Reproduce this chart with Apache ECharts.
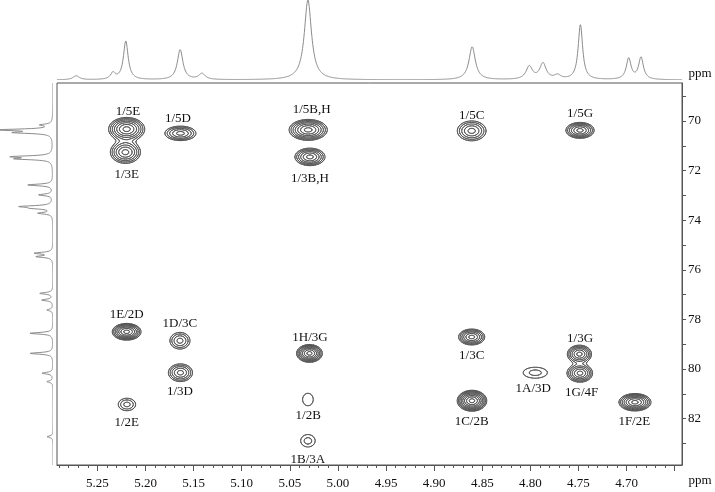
<!DOCTYPE html>
<html><head><meta charset="utf-8">
<script src="https://cdn.jsdelivr.net/npm/echarts@6/dist/echarts.min.js"></script>
<style>html,body{margin:0;padding:0;background:#fff}#c{width:715px;height:492px}</style>
</head><body><div id="c"></div>
<script>
// ---------- data ----------
const hMin = 4.6424, hMax = 5.292;     // 1H axis range (ppm)
const cMin = 68.47, cMax = 83.87;      // 13C axis range (ppm)

const xTickValues = [5.25, 5.20, 5.15, 5.10, 5.05, 5.00, 4.95, 4.90, 4.85, 4.80, 4.75, 4.70];
const xTickLabels = ['5.25','5.20','5.15','5.10','5.05','5.00','4.95','4.90','4.85','4.80','4.75','4.70'];
const xMajorTicks = [5.25, 5.20, 5.15, 5.10, 5.05, 5.00, 4.95, 4.90, 4.85, 4.80, 4.75, 4.70, 4.65];
const xMinorTicks = [5.29,5.28,5.27,5.26,5.24,5.23,5.22,5.21,5.19,5.18,5.17,5.16,5.14,5.13,5.12,5.11,5.09,5.08,5.07,5.06,5.04,5.03,5.02,5.01,4.99,4.98,4.97,4.96,4.94,4.93,4.92,4.91,4.89,4.88,4.87,4.86,4.84,4.83,4.82,4.81,4.79,4.78,4.77,4.76,4.74,4.73,4.72,4.71,4.69,4.68,4.67,4.66];
const yTickValues = [70, 72, 74, 76, 78, 80, 82];
const yTickLabels = ['70', '72', '74', '76', '78', '80', '82'];
const yAllTicks = [69, 70, 71, 72, 73, 74, 75, 76, 77, 78, 79, 80, 81, 82, 83];

// cross peaks
const peakNames  = ['1/5E','1/3E','1/5D','1/5B,H','1/3B,H','1/5C','1/5G','1E/2D','1D/3C','1/3D','1/2E','1H/3G','1/2B','1B/3A','1/3C','1A/3D','1/3G','1G/4F','1C/2B','1F/2E'];
const peakH      = [5.2196, 5.2209, 5.1637, 5.0309, 5.0291, 4.8610, 4.7484, 5.2196, 5.1642, 5.1637, 5.2193, 5.0296, 5.0312, 5.0312, 4.8610, 4.7949, 4.7490, 4.7484, 4.8607, 4.6913];
const peakC      = [70.33, 71.26, 70.50, 70.36, 71.45, 70.40, 70.38, 78.50, 78.86, 80.15, 81.43, 79.37, 81.23, 82.90, 78.71, 80.15, 79.40, 80.17, 81.28, 81.34];
const peakLevels = [7, 6, 5, 7, 6, 5, 6, 7, 4, 5, 3, 7, 1, 2, 6, 2, 6, 6, 8, 7];
const peakWidthH = [0.0187, 0.0156, 0.0161, 0.0198, 0.0156, 0.0149, 0.0146, 0.0149, 0.0104, 0.0125, 0.0090, 0.0133, 0.0055, 0.0073, 0.0135, 0.0125, 0.0125, 0.0130, 0.0153, 0.0166];
const peakWidthC = [0.47, 0.45, 0.29, 0.42, 0.35, 0.40, 0.32, 0.335, 0.335, 0.355, 0.25, 0.355, 0.25, 0.24, 0.32, 0.22, 0.36, 0.36, 0.42, 0.35];
const labelH     = [5.2183, 5.2196, 5.1663, 5.0273, 5.0291, 4.8610, 4.7484, 5.2196, 5.1642, 5.1642, 5.2196, 5.0291, 5.0309, 5.0312, 4.8610, 4.7970, 4.7484, 4.7467, 4.8610, 4.6920];
const labelC     = [69.63, 72.18, 69.89, 69.56, 72.34, 69.80, 69.72, 77.82, 78.16, 80.89, 82.15, 78.74, 81.86, 83.67, 79.44, 80.78, 78.77, 80.94, 82.10, 82.10];

// 1H projection (top)
const protonShift  = [5.2721, 5.2338, 5.2205, 5.1640, 5.1413, 5.0312, 4.8605, 4.8011, 4.7869, 4.7717, 4.7480, 4.6978, 4.6850];
const protonHeight = [4, 6.5, 38.5, 30, 6, 80, 33, 13, 16, 4, 55, 21, 22];
const protonWidth  = [0.004, 0.003, 0.003, 0.0035, 0.004, 0.0045, 0.004, 0.004, 0.004, 0.004, 0.0028, 0.003, 0.003];

// 13C projection (left)
const carbonShift  = [70.16, 70.36, 70.47, 71.44, 71.53, 72.58, 72.98, 73.45, 73.52, 73.72, 75.33, 75.47, 76.95, 77.22, 77.62, 78.56, 79.37, 80.17, 80.51, 82.73];
const carbonHeight = [11, 53, 35, 38, 33, 25, 14, 30, 16, 14, 18, 16, 13, 11, 6, 23, 23, 11, 6, 6];
const carbonWidth  = [0.04, 0.04, 0.04, 0.04, 0.04, 0.04, 0.04, 0.04, 0.04, 0.04, 0.04, 0.04, 0.04, 0.04, 0.04, 0.04, 0.04, 0.04, 0.04, 0.04];

// ---------- rendering ----------
const FONT = '"Liberation Serif", "Times New Roman", serif';
const LEVEL_FACTOR = 1.45;
const SHAPE_POWER = 1.6;

function contourRender(params, api) {
  if (params.dataIndex !== 0) return null;
  const cs = params.coordSys;
  const x0 = cs.x, y0 = cs.y;
  const W = Math.ceil(cs.width) + 1, H = Math.ceil(cs.height) + 1;
  const field = new Float32Array(W * H);
  let maxLev = 0;
  for (let p = 0; p < peakH.length; p++) {
    const n = peakLevels[p];
    if (n > maxLev) maxLev = n;
    const A = Math.pow(LEVEL_FACTOR, n - 0.5);
    const k = Math.pow(Math.log(A), 1 / SHAPE_POWER);
    const c = api.coord([peakH[p], peakC[p]]);
    const sz = api.size([peakWidthH[p], peakWidthC[p]], [peakH[p], peakC[p]]);
    const sx = sz[0] / k, sy = sz[1] / k;
    const i0 = Math.max(0, Math.floor(c[0] - x0 - 6 * sx)), i1 = Math.min(W - 1, Math.ceil(c[0] - x0 + 6 * sx));
    const j0 = Math.max(0, Math.floor(c[1] - y0 - 6 * sy)), j1 = Math.min(H - 1, Math.ceil(c[1] - y0 + 6 * sy));
    for (let j = j0; j <= j1; j++) {
      const dy = (y0 + j - c[1]) / sy;
      for (let i = i0; i <= i1; i++) {
        const dx = (x0 + i - c[0]) / sx;
        const r = Math.sqrt(dx * dx + dy * dy);
        field[j * W + i] += A * Math.exp(-Math.pow(r, SHAPE_POWER));
      }
    }
  }
  const SEG = {1:[['L','B']],2:[['B','R']],3:[['L','R']],4:[['T','R']],5:[['L','T'],['B','R']],6:[['T','B']],7:[['L','T']],
               8:[['L','T']],9:[['T','B']],10:[['T','R'],['L','B']],11:[['T','R']],12:[['L','R']],13:[['B','R']],14:[['L','B']]};
  const out = [];
  for (let lv = 0; lv < maxLev; lv++) {
    const L = Math.pow(LEVEL_FACTOR, lv);
    for (let j = 0; j < H - 1; j++) {
      for (let i = 0; i < W - 1; i++) {
        const a = field[j * W + i], b = field[j * W + i + 1], c = field[(j + 1) * W + i + 1], e = field[(j + 1) * W + i];
        const idx = (a >= L ? 8 : 0) | (b >= L ? 4 : 0) | (c >= L ? 2 : 0) | (e >= L ? 1 : 0);
        if (idx === 0 || idx === 15) continue;
        const pt = function (edge) {
          let px, py;
          if (edge === 'T') { px = i + (L - a) / (b - a); py = j; }
          else if (edge === 'R') { px = i + 1; py = j + (L - b) / (c - b); }
          else if (edge === 'B') { px = i + (L - e) / (c - e); py = j + 1; }
          else { px = i; py = j + (L - a) / (e - a); }
          return (x0 + px).toFixed(2) + ' ' + (y0 + py).toFixed(2);
        };
        const segs = SEG[idx];
        for (let s = 0; s < segs.length; s++) {
          out.push('M' + pt(segs[s][0]) + 'L' + pt(segs[s][1]));
        }
      }
    }
  }
  return {
    type: 'path',
    shape: { pathData: out.join('') },
    style: { fill: 'none', stroke: '#3a3a3a', lineWidth: 0.7, lineCap: 'round' }
  };
}

function lorentzSum(v, shifts, heights, widths) {
  let s = 0;
  for (let k = 0; k < shifts.length; k++) {
    const d = (v - shifts[k]) / widths[k];
    s += heights[k] / (1 + d * d);
  }
  return s;
}

function topSpecRender(params, api) {
  if (params.dataIndex !== 0) return null;
  const pts = [];
  const N = 1400;
  for (let s = 0; s <= N; s++) {
    const v = hMin + (hMax - hMin) * s / N;
    pts.push(api.coord([v, lorentzSum(v, protonShift, protonHeight, protonWidth)]));
  }
  return { type: 'polyline', shape: { points: pts }, style: { fill: null, stroke: '#8c8c8c', lineWidth: 1 } };
}

function leftSpecRender(params, api) {
  if (params.dataIndex !== 0) return null;
  const pts = [];
  const N = 1200;
  for (let s = 0; s <= N; s++) {
    const v = cMin + (cMax - cMin) * s / N;
    pts.push(api.coord([lorentzSum(v, carbonShift, carbonHeight, carbonWidth), v]));
  }
  return { type: 'polyline', shape: { points: pts }, style: { fill: null, stroke: '#8c8c8c', lineWidth: 1 } };
}

function labelRender(params, api) {
  const i = params.dataIndex;
  const p = api.coord([labelH[i], labelC[i]]);
  return {
    type: 'text', x: p[0], y: p[1],
    style: { text: peakNames[i], fill: '#111', fontSize: 13, fontFamily: FONT, align: 'center', verticalAlign: 'middle' }
  };
}

function near(a, b) { return Math.abs(a - b) < 1e-6; }

const chart = echarts.init(document.getElementById('c'), null, { renderer: 'canvas', width: 715, height: 492 });
const axisColor = '#555';
chart.setOption({
  animation: false,
  backgroundColor: '#fff',
  grid: [
    { left: 57, right: 33, top: 83, bottom: 27, show: true, borderColor: axisColor, borderWidth: 1, containLabel: false },
    { left: 57, right: 33, top: 0, height: 80, show: false },
    { left: 0, width: 53, top: 83, bottom: 27, show: false }
  ],
  xAxis: [
    { gridIndex: 0, type: 'value', inverse: true, min: hMin, max: hMax, position: 'bottom',
      axisLine: { show: true, onZero: false, lineStyle: { color: axisColor, width: 1 } },
      axisTick: { show: true, length: 6, customValues: xMajorTicks, lineStyle: { color: axisColor } },
      axisLabel: { show: true, customValues: xTickValues, margin: 12, color: '#111', fontSize: 13, fontFamily: FONT,
        formatter: function (v) { for (let k = 0; k < xTickValues.length; k++) if (near(v, xTickValues[k])) return xTickLabels[k]; return ''; } },
      splitLine: { show: false } },
    { gridIndex: 0, type: 'value', inverse: true, min: hMin, max: hMax, position: 'bottom',
      axisLine: { show: false, onZero: false },
      axisTick: { show: true, length: 3, customValues: xMinorTicks, lineStyle: { color: axisColor } },
      axisLabel: { show: false }, splitLine: { show: false } },
    { gridIndex: 1, type: 'value', inverse: true, min: hMin, max: hMax, show: false },
    { gridIndex: 2, type: 'value', inverse: true, min: 0, max: 53, show: false }
  ],
  yAxis: [
    { gridIndex: 0, type: 'value', inverse: true, min: cMin, max: cMax, position: 'right',
      axisLine: { show: true, onZero: false, lineStyle: { color: axisColor, width: 1 } },
      axisTick: { show: true, length: 4, customValues: yAllTicks, lineStyle: { color: axisColor } },
      axisLabel: { show: true, customValues: yTickValues, margin: 6, color: '#111', fontSize: 13, fontFamily: FONT,
        formatter: function (v) { for (let k = 0; k < yTickValues.length; k++) if (near(v, yTickValues[k])) return yTickLabels[k]; return ''; } },
      splitLine: { show: false } },
    { gridIndex: 1, type: 'value', min: 0, max: 80, show: false },
    { gridIndex: 2, type: 'value', inverse: true, min: cMin, max: cMax, show: false }
  ],
  series: [
    { type: 'custom', xAxisIndex: 0, yAxisIndex: 0, clip: true, silent: true,
      data: peakH.map(function (h, i) { return [h, peakC[i]]; }), renderItem: contourRender },
    { type: 'custom', xAxisIndex: 0, yAxisIndex: 0, clip: false, silent: true,
      data: labelH.map(function (h, i) { return [h, labelC[i]]; }), renderItem: labelRender },
    { type: 'custom', xAxisIndex: 2, yAxisIndex: 1, clip: true, silent: true,
      data: protonShift.map(function (s, i) { return [s, protonHeight[i]]; }), renderItem: topSpecRender },
    { type: 'custom', xAxisIndex: 3, yAxisIndex: 2, clip: true, silent: true,
      data: carbonShift.map(function (s, i) { return [carbonHeight[i], s]; }), renderItem: leftSpecRender }
  ],
  graphic: [
    { type: 'text', x: 700, y: 481, style: { text: 'ppm', fill: '#111', fontSize: 13, fontFamily: FONT, align: 'center', verticalAlign: 'middle' } },
    { type: 'text', x: 700, y: 74, style: { text: 'ppm', fill: '#111', fontSize: 13, fontFamily: FONT, align: 'center', verticalAlign: 'middle' } }
  ]
});
</script></body></html>
